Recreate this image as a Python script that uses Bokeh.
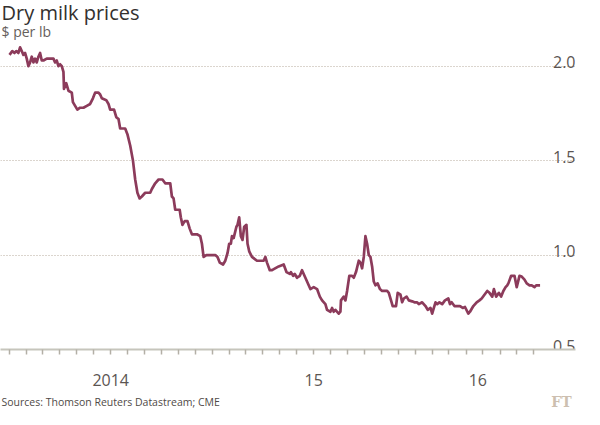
import pandas as pd
from bokeh.plotting import figure
from bokeh.layouts import column
from bokeh.models import Range1d, FixedTicker, Label, ColumnDataSource, Grid
from bokeh.core.properties import value
from bokeh.embed import file_html
from bokeh.resources import INLINE

# ---------------- data ----------------
dates = [
    "2014-01-01", "2014-01-06", "2014-01-10", "2014-01-13", "2014-01-17", "2014-01-20",
    "2014-01-23", "2014-01-26", "2014-01-29", "2014-02-01", "2014-02-04", "2014-02-07",
    "2014-02-10", "2014-02-13", "2014-02-16", "2014-02-19", "2014-02-22", "2014-02-25",
    "2014-02-28", "2014-03-03", "2014-03-09", "2014-03-21", "2014-03-24", "2014-03-27",
    "2014-03-30", "2014-04-02", "2014-04-05", "2014-04-08", "2014-04-09", "2014-04-13",
    "2014-04-17", "2014-04-23", "2014-04-25", "2014-04-29", "2014-05-03", "2014-05-08",
    "2014-05-14", "2014-05-20", "2014-05-26", "2014-05-31", "2014-06-04", "2014-06-10",
    "2014-06-13", "2014-06-16", "2014-06-24", "2014-06-28", "2014-07-01", "2014-07-08",
    "2014-07-12", "2014-07-16", "2014-07-19", "2014-07-28", "2014-08-01", "2014-08-06",
    "2014-08-11", "2014-08-15", "2014-08-19", "2014-08-23", "2014-08-27", "2014-09-02",
    "2014-09-11", "2014-09-14", "2014-09-20", "2014-09-26", "2014-10-03", "2014-10-08",
    "2014-10-17", "2014-10-20", "2014-10-23", "2014-10-26", "2014-11-03", "2014-11-05",
    "2014-11-08", "2014-11-12", "2014-11-17", "2014-11-21", "2014-11-25", "2014-12-04",
    "2014-12-10", "2014-12-13", "2014-12-16", "2014-12-21", "2015-01-06", "2015-01-10",
    "2015-01-14", "2015-01-20", "2015-01-24", "2015-01-28", "2015-01-31", "2015-02-03",
    "2015-02-05", "2015-02-08", "2015-02-13", "2015-02-15", "2015-02-18", "2015-02-21",
    "2015-02-24", "2015-02-27", "2015-03-03", "2015-03-05", "2015-03-08", "2015-03-13",
    "2015-03-22", "2015-04-03", "2015-04-06", "2015-04-09", "2015-04-14", "2015-04-18",
    "2015-04-30", "2015-05-09", "2015-05-14", "2015-05-20", "2015-05-22", "2015-05-26",
    "2015-05-29", "2015-06-02", "2015-06-07", "2015-06-11", "2015-06-17", "2015-06-23",
    "2015-06-26", "2015-07-02", "2015-07-08", "2015-07-13", "2015-07-17", "2015-07-23",
    "2015-07-26", "2015-08-01", "2015-08-04", "2015-08-07", "2015-08-10", "2015-08-16",
    "2015-08-19", "2015-08-20", "2015-08-25", "2015-08-28", "2015-08-31", "2015-09-04",
    "2015-09-09", "2015-09-12", "2015-09-16", "2015-09-21", "2015-09-24", "2015-09-27",
    "2015-09-30", "2015-10-03", "2015-10-06", "2015-10-09", "2015-10-12", "2015-10-15",
    "2015-10-18", "2015-10-21", "2015-10-25", "2015-10-29", "2015-11-02", "2015-11-11",
    "2015-11-14", "2015-11-18", "2015-11-21", "2015-11-27", "2015-11-30", "2015-12-05",
    "2015-12-08", "2015-12-11", "2015-12-16", "2015-12-20", "2015-12-26", "2015-12-30",
    "2016-01-04", "2016-01-07", "2016-01-13", "2016-01-19", "2016-01-23", "2016-01-28",
    "2016-01-31", "2016-02-03", "2016-02-06", "2016-02-09", "2016-02-13", "2016-02-18",
    "2016-02-23", "2016-02-29", "2016-03-03", "2016-03-06", "2016-03-11", "2016-03-16",
    "2016-03-21", "2016-03-26", "2016-03-30", "2016-04-05", "2016-04-08", "2016-04-14",
    "2016-04-20", "2016-04-25", "2016-04-29", "2016-05-04", "2016-05-09", "2016-05-13",
    "2016-05-18", "2016-05-21", "2016-05-25", "2016-05-30", "2016-06-03", "2016-06-07",
    "2016-06-11", "2016-06-14", "2016-06-16", "2016-06-21", "2016-06-27", "2016-07-01",
    "2016-07-06", "2016-07-10", "2016-07-15", "2016-07-19", "2016-07-24", "2016-07-28",
    "2016-08-02", "2016-08-05", "2016-08-09", "2016-08-12",
]
prices = [
    2.06, 2.08, 2.07, 2.08, 2.07, 2.10,
    2.08, 2.06, 2.07, 2.04, 2.00, 2.02,
    2.05, 2.02, 2.04, 2.02, 2.05, 2.07,
    2.03, 2.03, 2.04, 2.04, 2.02, 2.03,
    2.00, 2.01, 2.00, 1.97, 1.88, 1.91,
    1.87, 1.86, 1.81, 1.79, 1.77, 1.78,
    1.78, 1.79, 1.80, 1.83, 1.86, 1.86,
    1.85, 1.83, 1.82, 1.80, 1.77, 1.77,
    1.73, 1.72, 1.67, 1.67, 1.64, 1.58,
    1.50, 1.40, 1.33, 1.30, 1.31, 1.33,
    1.33, 1.35, 1.38, 1.40, 1.40, 1.38,
    1.38, 1.31, 1.30, 1.24, 1.24, 1.20,
    1.16, 1.18, 1.18, 1.14, 1.11, 1.11,
    1.10, 1.06, 0.99, 1.00, 1.00, 0.99,
    0.96, 0.95, 0.97, 1.01, 1.06, 1.06,
    1.10, 1.09, 1.15, 1.16, 1.20, 1.10,
    1.08, 1.15, 1.16, 1.06, 1.02, 0.99,
    0.97, 0.97, 0.99, 0.96, 0.92, 0.92,
    0.94, 0.95, 0.91, 0.90, 0.91, 0.89,
    0.90, 0.88, 0.89, 0.92, 0.88, 0.84,
    0.82, 0.83, 0.82, 0.78, 0.76, 0.74,
    0.71, 0.70, 0.72, 0.70, 0.71, 0.69,
    0.70, 0.76, 0.78, 0.76, 0.81, 0.89,
    0.89, 0.88, 0.91, 0.97, 0.96, 0.93,
    0.99, 1.10, 1.06, 1.00, 0.99, 0.94,
    0.86, 0.84, 0.85, 0.82, 0.81, 0.81,
    0.80, 0.76, 0.73, 0.73, 0.80, 0.79,
    0.75, 0.77, 0.78, 0.76, 0.755, 0.75,
    0.75, 0.74, 0.75, 0.73, 0.71, 0.72,
    0.69, 0.72, 0.75, 0.74, 0.75, 0.74,
    0.76, 0.77, 0.74, 0.75, 0.73, 0.73,
    0.73, 0.72, 0.725, 0.69, 0.70, 0.73,
    0.75, 0.76, 0.77, 0.79, 0.81, 0.80,
    0.78, 0.82, 0.78, 0.80, 0.78, 0.81,
    0.83, 0.84, 0.85, 0.89, 0.89, 0.83,
    0.89, 0.886, 0.87, 0.85, 0.84, 0.84,
    0.83, 0.84, 0.84, 0.84,
]
y_ticks = [0.5, 1.0, 1.5, 2.0]
y_tick_labels = ["0.5", "1.0", "1.5", "2.0"]
grid_values = [1.0, 1.5, 2.0]
year_label_dates = ["2014-07-02", "2015-07-02", "2016-04-22"]
year_labels = ["2014", "15", "16"]
month_ticks = [d.strftime("%Y-%m-%d") for d in pd.date_range("2014-01-01", "2016-08-01", freq="MS")]

title_text = "Dry milk prices"
subtitle_text = "$ per lb"
source_text = "Sources: Thomson Reuters Datastream; CME"
logo_text = "FT"


def ms(d):
    return pd.Timestamp(d).value / 1e6


FONT = "Open Sans"
LINE_COLOR = "#8c3b5b"
TEXT_GREY = "#5b5552"
W = 584
HEAD_H, MAIN_H, FOOT_H = 40, 350, 19


def text_panel(height):
    f = figure(width=W, height=height, output_backend="svg", toolbar_location=None,
               x_axis_location=None, y_axis_location=None,
               x_range=Range1d(0, W), y_range=Range1d(0, height),
               min_border=0, min_border_left=0, min_border_right=0,
               min_border_top=0, min_border_bottom=0,
               background_fill_color="white", border_fill_color="white",
               outline_line_color=None)
    for g in f.grid:
        g.visible = False
    return f


# ---------------- header ----------------
head = text_panel(HEAD_H)
head.add_layout(Label(x=1, y=28.4, text=title_text, text_font=FONT,
                      text_font_size="20px", text_color="#33302e", text_baseline="alphabetic"))
head.add_layout(Label(x=1, y=8.6, text=subtitle_text, text_font=FONT,
                      text_font_size="14px", text_color="#66605c", text_baseline="alphabetic"))

# ---------------- main chart ----------------
p = figure(
    width=W, height=MAIN_H,
    output_backend="svg", toolbar_location=None,
    x_axis_type="datetime", y_axis_location=None,
    x_range=Range1d(ms("2013-12-15 19:40"), ms("2016-10-14 16:50")),
    y_range=Range1d(0.5, 2.136),
    min_border_left=0, min_border_right=9, min_border_top=0, min_border_bottom=41,
    background_fill_color="white", border_fill_color="white",
    outline_line_color=None,
)
for g in p.grid:
    g.visible = False

p.add_layout(Grid(dimension=1, ticker=FixedTicker(ticks=grid_values),
                  grid_line_color="#b7ab9c", grid_line_dash="1 2", grid_line_width=1))

xa = p.xaxis[0]
xa.ticker = FixedTicker(ticks=[ms(d) for d in year_label_dates],
                        minor_ticks=[ms(d) for d in month_ticks])
xa.major_label_overrides = {ms(d): lab for d, lab in zip(year_label_dates, year_labels)}
xa.major_tick_in = 0
xa.major_tick_out = 0
xa.major_tick_line_color = None
xa.minor_tick_in = 0
xa.minor_tick_out = 5
xa.minor_tick_line_color = "#b3afa6"
xa.minor_tick_line_width = 1.5
xa.axis_line_color = "#c6c5bc"
xa.axis_line_width = 2
xa.major_label_standoff = 19
xa.major_label_text_font = FONT
xa.major_label_text_font_size = "16px"
xa.major_label_text_color = TEXT_GREY

src = ColumnDataSource(dict(date=pd.to_datetime(dates), price=prices))
p.line("date", "price", source=src, line_color=LINE_COLOR, line_width=2.7, line_join="round")

p.text(x=[p.x_range.end] * len(y_ticks), y=y_ticks, text=y_tick_labels,
       text_align="right", text_baseline="alphabetic", y_offset=-4,
       text_font=value(FONT), text_font_size="16px", text_color=TEXT_GREY)

# ---------------- footer ----------------
foot = text_panel(FOOT_H)
foot.add_layout(Label(x=1, y=7.1, text=source_text, text_font=FONT,
                      text_font_size="10.5px", text_color="#4f4a47", text_baseline="alphabetic"))
foot.add_layout(Label(x=580, y=7.3, text=logo_text, text_font="DejaVu Serif",
                      text_font_size="14px", text_font_style="bold", text_color="#cdbfb0",
                      text_align="right", text_baseline="alphabetic"))

layout = column(head, p, foot, spacing=0)
open("out.html", "w").write(file_html(layout, INLINE))
